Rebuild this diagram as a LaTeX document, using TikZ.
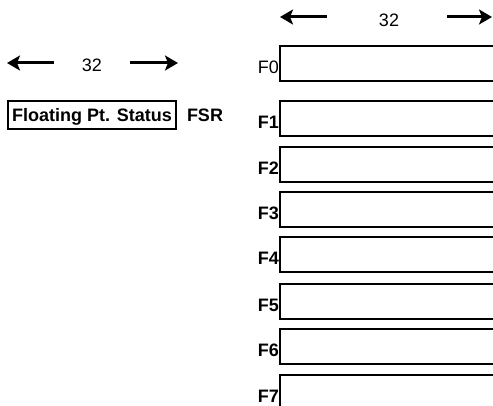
\documentclass[tikz,border=0pt]{standalone}
\usepackage{fontspec}
\setmainfont{Liberation Sans}
\usetikzlibrary{arrows.meta}
\begin{document}
\begin{tikzpicture}[x=1pt,y=-1pt,
  regbox/.style={draw,line width=1.1pt},
  lab/.style={font=\fontsize{18}{18}\selectfont\bfseries,inner sep=0pt,anchor=east},
  labreg/.style={font=\fontsize{18}{18}\selectfont,inner sep=0pt,anchor=east},
  num/.style={font=\fontsize{18}{18}\selectfont,inner sep=0pt},
  widtharrow/.style={line width=3pt,-{Stealth[length=13pt,width=15pt,inset=3pt]}}]
\useasboundingbox (0,0) rectangle (493,406);
\clip (0,0) rectangle (493,406);
% top width indicator
\coordinate (ta1) at (327,17);
\coordinate (ta1e) at (280,17);
\coordinate (ta2) at (447,17);
\coordinate (ta2e) at (492,17);
\draw[widtharrow] (ta1) -- (ta1e);
\draw[widtharrow] (ta2) -- (ta2e);
\node[num] (t32) at (389,20) {32};
% left width indicator
\coordinate (la1) at (54,63);
\coordinate (la1e) at (7,63);
\coordinate (la2) at (130,63);
\coordinate (la2e) at (178,63);
\draw[widtharrow] (la1) -- (la1e);
\draw[widtharrow] (la2) -- (la2e);
\node[num] (l32) at (92,65) {32};
% FSR
\draw[regbox] (8,101) rectangle (176,129);
\node[font=\fontsize{18}{18}\selectfont\bfseries,inner sep=0pt,anchor=base] (fsrtext) at (92,122) {Floating Pt. Status};
\node[font=\fontsize{18}{18}\selectfont\bfseries,inner sep=0pt,anchor=base] (fsr) at (205,122) {FSR};
% floating point registers
\draw[regbox] (280,46) rectangle (500,81);
\node[labreg] (f0) at (279,67) {F0};
\foreach \i/\t in {1/101,2/147,3/192,4/237,5/284,6/329,7/375}{
  \draw[regbox] (280,\t) rectangle (500,\t+35);
  \node[lab] (f\i) at (279,\t+21) {F\i};
}
\end{tikzpicture}
\end{document}
